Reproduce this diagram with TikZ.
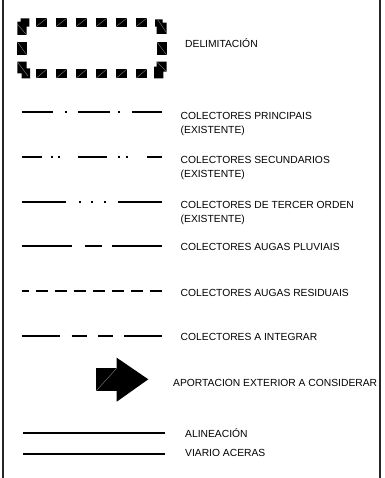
\documentclass[tikz,border=0pt]{standalone}
\usepackage{fontspec}
\setmainfont{Liberation Sans}
\begin{document}
\begin{tikzpicture}[x=1pt,y=-1pt,
  lbl/.style={anchor=base west,inner sep=0pt,font=\fontsize{10.3}{12}\selectfont},
  legline/.style={line width=2pt},
  dotmark/.style={line width=2pt},
  frameline/.style={line width=2pt,draw=black!85},
  sqr/.style={fill=black},
  hatch/.style={draw=black!45,line width=0.35pt}]
\useasboundingbox (0,0) rectangle (384,478);
% frame
\draw[frameline] (2.8,0) -- (2.8,478);
\draw[frameline] (380,0) -- (380,478);

% delimitation (dashed rectangle of squares)
\foreach \a in {36,56,76,96,116,136}{
  \fill[sqr] (\a,18.3) rectangle ++(10.7,8.4);
  \draw[hatch] (\a,26.7) -- ++(10.7,-8.4);
  \fill[sqr] (\a,69.3) rectangle ++(10.7,9);
  \draw[hatch] (\a,78.3) -- ++(10.7,-9);
}
\fill[sqr] (17.3,41.7) rectangle (26.7,55);
\draw[hatch] (17.3,41.7) -- (26.7,55);
\fill[sqr] (156.7,41.7) rectangle (166.7,55);
\draw[hatch] (156.7,41.7) -- (166.7,55);
% corners
\fill[sqr] (20.7,18.3) -- (29.3,18.3) -- (29.3,26.7) -- (26.7,26.7) -- (26.7,35) -- (17.3,35) -- (17.3,21.7) -- (20.7,21.7) -- cycle;
\draw[hatch] (17.3,24) -- (26.7,35);
\fill[sqr] (155,19.3) -- (162.7,19.3) -- (162.7,22.7) -- (166.7,22.7) -- (166.7,34) -- (156.7,34) -- (156.7,26.7) -- (155,26.7) -- cycle;
\draw[hatch] (158,20) -- (166.7,33);
\fill[sqr] (17.3,61.7) -- (26.7,61.7) -- (26.7,68.3) -- (30,68.3) -- (30,78.3) -- (21.7,78.3) -- (21.7,73.3) -- (17.3,73.3) -- cycle;
\draw[hatch] (17.3,62) -- (28,76);
\fill[sqr] (156.7,61.7) -- (166.7,61.7) -- (166.7,71.7) -- (163.3,71.7) -- (163.3,78.3) -- (154,78.3) -- (154,66.7) -- (156.7,66.7) -- cycle;
\draw[hatch] (156.7,62) -- (166.7,71.7);
\node[lbl] (delim) at (185,47.5) {DELIMITACIÓN};

% colectores principais
\draw[legline] (21.7,111.7) -- (53.3,111.7);
\draw[dotmark] (64.7,111.7) -- (66.7,111.7);
\draw[legline] (78,111.7) -- (110,111.7);
\draw[dotmark] (118.2,111.7) -- (120.2,111.7);
\draw[legline] (131.7,111.7) -- (162.3,111.7);
\node[lbl] (princ) at (180.5,120) {COLECTORES PRINCIPAIS};
\node[lbl] (princb) at (180.5,134) {(EXISTENTE)};

% colectores secundarios
\draw[legline] (21.7,157.3) -- (41.7,157.3);
\draw[dotmark] (51.4,157.3) -- (53.4,157.3);
\draw[dotmark] (58.4,157.3) -- (60.4,157.3);
\draw[legline] (78.3,157.3) -- (106.7,157.3);
\draw[dotmark] (118.4,157.3) -- (120.4,157.3);
\draw[dotmark] (125.8,157.3) -- (127.8,157.3);
\draw[legline] (146.7,157.3) -- (162.3,157.3);
\node[lbl] (secu) at (180.5,163.3) {COLECTORES SECUNDARIOS};
\node[lbl] (secub) at (180.5,177.5) {(EXISTENTE)};

% colectores de tercer orden
\draw[legline] (21.7,201.7) -- (65.7,201.7);
\draw[dotmark] (79,201.7) -- (81,201.7);
\draw[dotmark] (91.4,201.7) -- (93.4,201.7);
\draw[dotmark] (104,201.7) -- (106,201.7);
\draw[legline] (118.3,201.7) -- (162.3,201.7);
\node[lbl] (terc) at (180.5,208.5) {COLECTORES DE TERCER ORDEN};
\node[lbl] (tercb) at (180.5,222.3) {(EXISTENTE)};

% augas pluviais
\draw[legline] (21.7,245.7) -- (71.7,245.7);
\draw[legline] (85,245.7) -- (101.7,245.7);
\draw[legline] (111.7,245.7) -- (162.3,245.7);
\node[lbl] (pluv) at (180.5,250) {COLECTORES AUGAS PLUVIAIS};

% augas residuais
\draw[legline,dash pattern=on 12pt off 7pt,dash phase=5pt] (21.7,290.7) -- (161.7,290.7);
\node[lbl] (resid) at (180.5,296.5) {COLECTORES AUGAS RESIDUAIS};

% a integrar
\draw[legline] (21.7,336) -- (60,336);
\draw[legline] (71.7,336) -- (86.7,336);
\draw[legline] (98.3,336) -- (113.3,336);
\draw[legline] (124,336) -- (162.3,336);
\node[lbl] (integ) at (180.5,340.5) {COLECTORES A INTEGRAR};

% aportacion exterior
\fill[sqr] (96,368.3) rectangle (116.7,391);
\fill[sqr] (116.7,357.7) -- (148.3,379.3) -- (116.7,401.7) -- cycle;
\draw[hatch] (96,391) -- (116.7,368.3);
\node[lbl] (aport) at (173,386.7) {APORTACION EXTERIOR A CONSIDERAR};

% alineacion / viario aceras
\draw[legline] (23.3,433.3) -- (165,433.3);
\draw[legline] (23.3,454) -- (165,454);
\node[lbl] (alin) at (185,437.5) {ALINEACIÓN};
\node[lbl] (viar) at (185,456.5) {VIARIO ACERAS};
\end{tikzpicture}
\end{document}
